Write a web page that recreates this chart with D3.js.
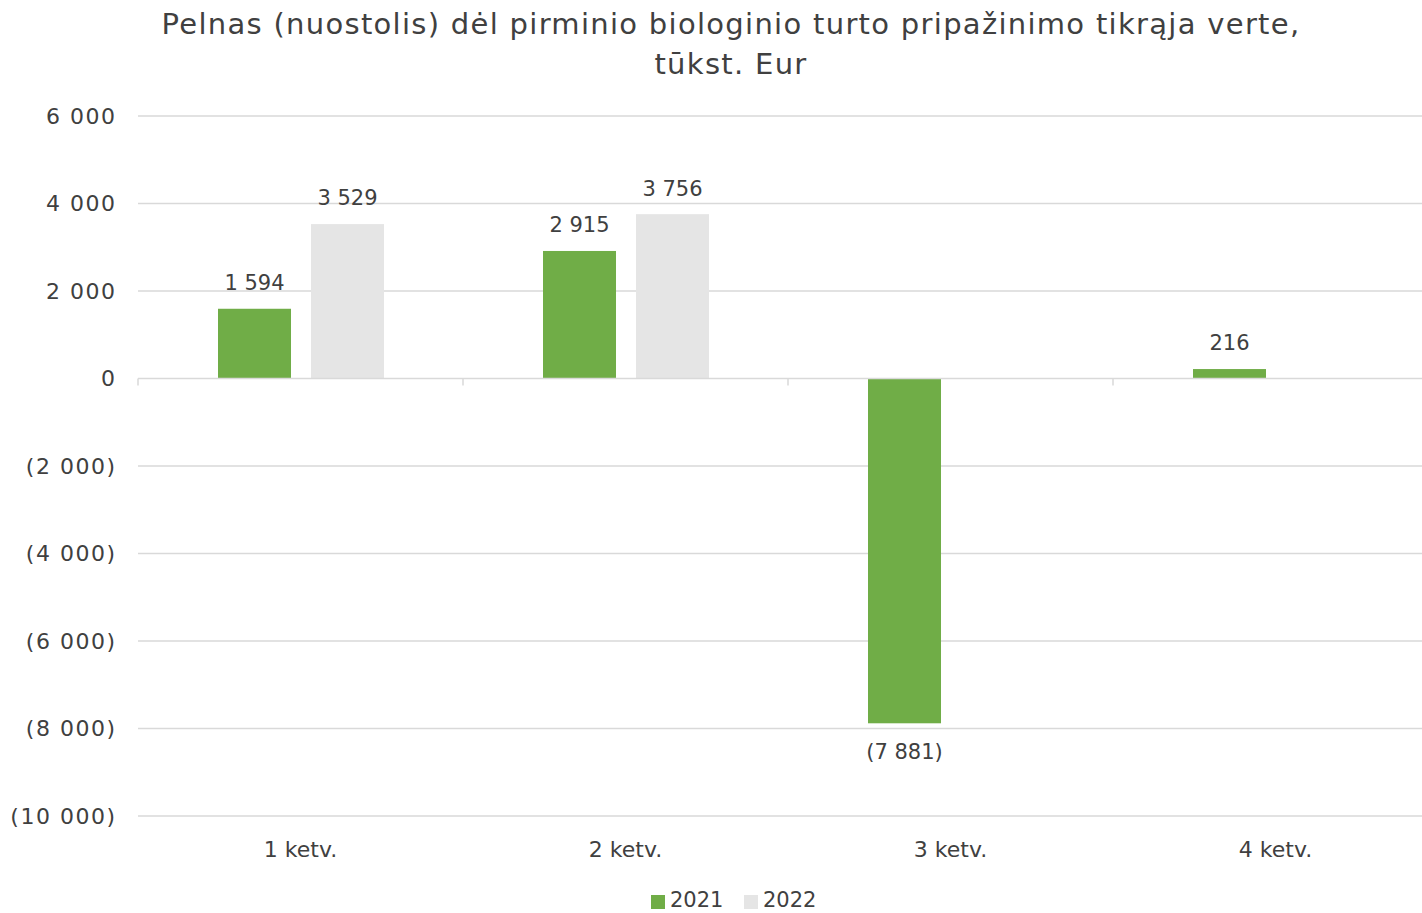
<!DOCTYPE html>
<html><head><meta charset="utf-8">
<script src="https://cdn.jsdelivr.net/npm/d3@7"></script>
<style>body{margin:0;background:#fff}svg{display:block}text{font-family:"DejaVu Sans",sans-serif;fill:#404040}</style>
</head><body>
<svg id="c" width="1422" height="913"></svg>
<script>
const categories = ["1 ketv.", "2 ketv.", "3 ketv.", "4 ketv."];
const seriesNames = ["2021", "2022"];
const values2021 = [1594, 2915, -7881, 216];
const values2022 = [3529, 3756, null, null];
const yTicks = [6000, 4000, 2000, 0, -2000, -4000, -6000, -8000, -10000];
const colors = ["#70ad47", "#e5e5e5"];
const titleLines = ["Pelnas (nuostolis) dėl pirminio biologinio turto pripažinimo tikrąja verte,", "tūkst. Eur"];

const svg = d3.select("#c");
const fmtNum = v => {
  const s = d3.format(",")(Math.abs(v)).replace(/,/g, " ");
  return v < 0 ? "(" + s + ")" : s;
};
const y = d3.scaleLinear().domain([-10000, 6000]).range([816, 116]);
const x0 = d3.scaleBand().domain(categories).range([138, 1438]).paddingInner(0).paddingOuter(0);
const x1 = d3.scaleBand().domain(seriesNames).range([80, 246]).paddingInner(0.215);

// title
svg.append("g").selectAll("text").data(titleLines).join("text")
  .attr("x", 731).attr("y", (d, i) => 24 + i * 40).attr("dy", "0.35em").attr("text-anchor", "middle")
  .style("font-size", "29px").style("letter-spacing", "1.3px").text(d => d);

// grid
svg.append("g").selectAll("line").data(yTicks.filter(t => t !== 0)).join("line")
  .attr("x1", 138).attr("x2", 1422).attr("y1", d => y(d)).attr("y2", d => y(d))
  .attr("stroke", "#d9d9d9").attr("stroke-width", 1.5);

// y labels
svg.append("g").selectAll("text").data(yTicks).join("text")
  .attr("x", 116.5).attr("y", d => y(d)).attr("dy", "0.35em").attr("text-anchor", "end")
  .style("font-size", "22px").style("letter-spacing", "1.5px").text(d => fmtNum(d));

// bars
const data = [];
categories.forEach((c, i) => {
  [values2021[i], values2022[i]].forEach((v, j) => { if (v !== null) data.push({c, s: seriesNames[j], v, j}); });
});
svg.append("g").selectAll("rect").data(data).join("rect")
  .attr("x", d => x0(d.c) + x1(d.s)).attr("width", x1.bandwidth())
  .attr("y", d => y(Math.max(0, d.v))).attr("height", d => Math.abs(y(d.v) - y(0)))
  .attr("fill", d => colors[d.j]);

// zero axis
svg.append("line").attr("x1", 138).attr("x2", 1422).attr("y1", y(0)).attr("y2", y(0))
  .attr("stroke", "#d9d9d9").attr("stroke-width", 1.5);
svg.append("g").selectAll("line").data(categories).join("line")
  .attr("x1", d => x0(d)).attr("x2", d => x0(d)).attr("y1", y(0)).attr("y2", y(0) + 7)
  .attr("stroke", "#d9d9d9").attr("stroke-width", 1.5);

// data labels
svg.append("g").selectAll("text").data(data).join("text")
  .attr("x", d => x0(d.c) + x1(d.s) + x1.bandwidth() / 2)
  .attr("y", d => d.v >= 0 ? y(d.v) - 26 : y(d.v) + 28)
  .attr("dy", "0.35em").attr("text-anchor", "middle")
  .style("font-size", "21px").text(d => fmtNum(d.v));

// category labels
svg.append("g").selectAll("text").data(categories).join("text")
  .attr("x", d => x0(d) + x0.bandwidth() / 2).attr("y", 849).attr("dy", "0.35em")
  .attr("text-anchor", "middle").style("font-size", "22px").text(d => d);

// legend
const leg = svg.append("g").selectAll("g").data(seriesNames).join("g")
  .attr("transform", (d, i) => `translate(${651 + i * 93},0)`);
leg.append("rect").attr("x", 0).attr("y", 895).attr("width", 14).attr("height", 14).attr("fill", (d, i) => colors[i]);
leg.append("text").attr("x", 19).attr("y", 900).attr("dy", "0.35em").style("font-size", "21px").text(d => d);
</script>
</body></html>
